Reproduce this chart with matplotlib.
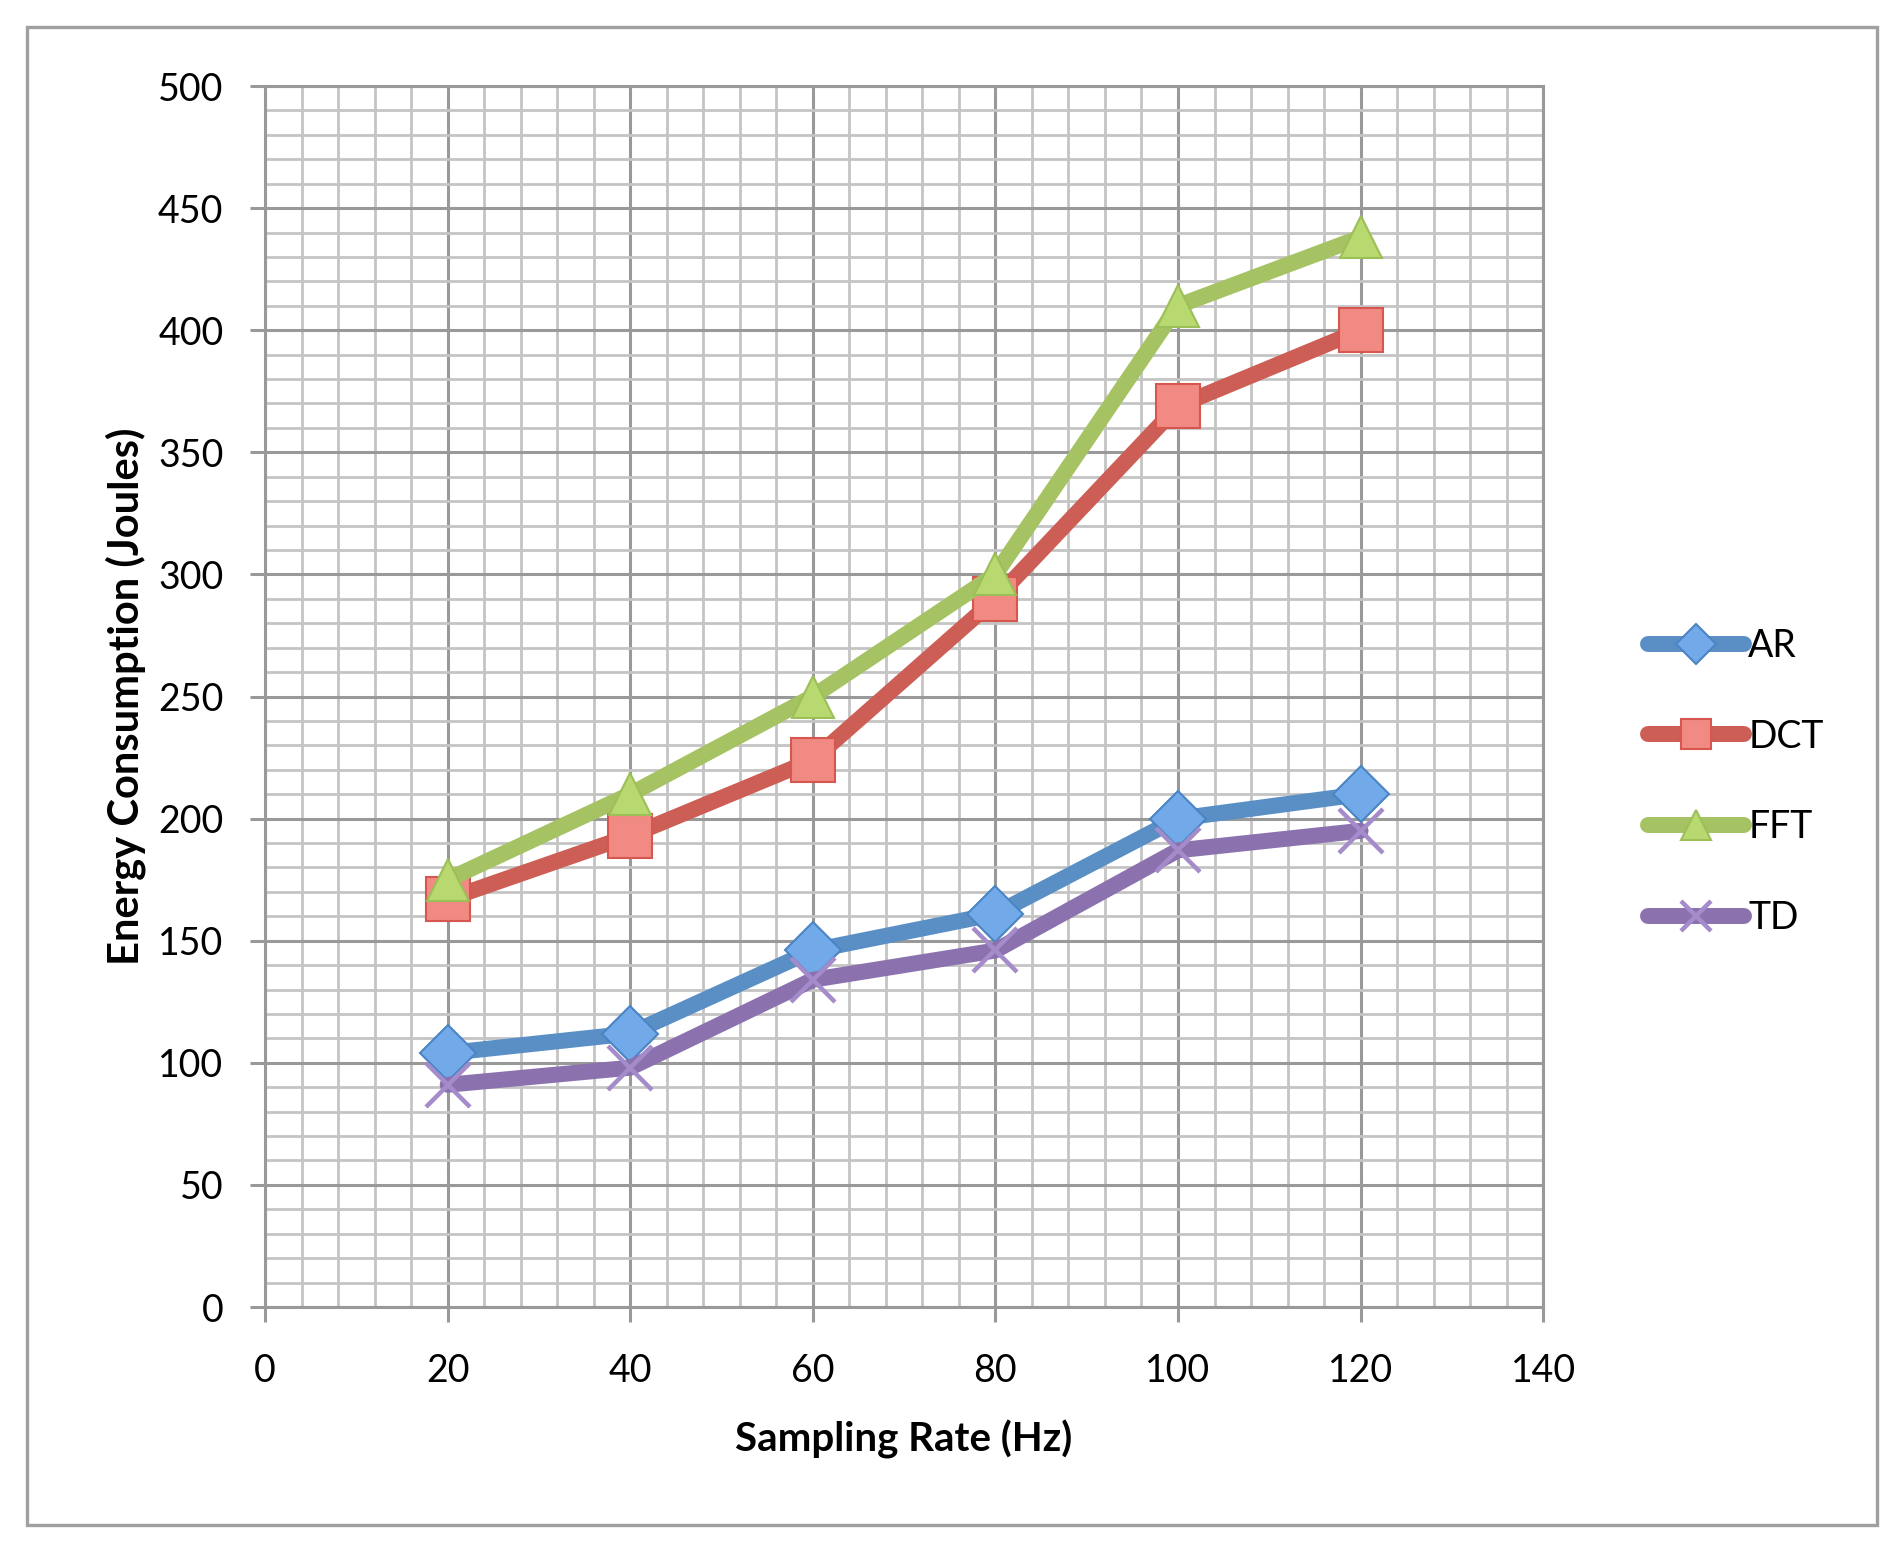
import matplotlib
matplotlib.use("Agg")
import matplotlib.pyplot as plt
from matplotlib.patches import Rectangle
from matplotlib.ticker import MultipleLocator

# Data
sampling_rate = [20, 40, 60, 80, 100, 120]
ar = [104, 112, 146, 161, 200, 210]
dct = [167, 193, 224, 290, 369, 400]
fft = [175, 210, 250, 300, 410, 438]
td = [91, 98, 134, 146, 187, 195]

series_names = ["AR", "DCT", "FFT", "TD"]

plt.rcParams["font.family"] = ["Lato", "DejaVu Sans"]

fig = plt.figure(figsize=(19.03, 15.53), dpi=100)
ax = fig.add_axes([0.1393, 0.1584, 0.6716, 0.7862])

# outer chart border
fig.patches.append(Rectangle((0.0142, 0.018), 0.9722, 0.9646, transform=fig.transFigure,
                             fill=False, edgecolor="#a0a0a0", linewidth=2.4))

ax.set_xlim(0, 140)
ax.set_ylim(0, 500)
ax.xaxis.set_major_locator(MultipleLocator(20))
ax.xaxis.set_minor_locator(MultipleLocator(4))
ax.yaxis.set_major_locator(MultipleLocator(50))
ax.yaxis.set_minor_locator(MultipleLocator(10))

ax.grid(which="minor", color="#c4c4c4", linewidth=2.0)
ax.grid(which="major", color="#999999", linewidth=2.2)
ax.set_axisbelow(True)
for s in ax.spines.values():
    s.set_color("#999999")
    s.set_linewidth(2.2)

ax.tick_params(which="major", direction="out", length=11, width=2.2, color="#999999",
               labelsize=27, labelcolor="black")
ax.tick_params(axis="y", pad=19)
ax.tick_params(axis="x", pad=22)
ax.tick_params(which="minor", length=0)

styles = [
    (ar, "#5a8fc6", "D", 29, "#72a9e8", "#4a84c4", 1.5),
    (dct, "#cc5e55", "s", 31, "#f08a82", "#d65650", 1.5),
    (fft, "#a6c363", "^", 30, "#b8d870", "#9cbf58", 1.5),
    (td, "#8b72ae", "x", 31, "#a48bc9", "#a48bc9", 3.2),
]
for (vals, col, mk, ms, mfc, mec, mew), name in zip(styles, series_names):
    ax.plot(sampling_rate, vals, color=col, linewidth=11.5, solid_capstyle="round",
            solid_joinstyle="round", marker=mk, markersize=ms, markerfacecolor=mfc,
            markeredgecolor=mec, markeredgewidth=mew, label=name, zorder=3)

ax.set_xlabel("Sampling Rate (Hz)", fontsize=29, fontweight="bold", labelpad=22)
ax.set_ylabel("Energy Consumption (Joules)", fontsize=30, fontweight="bold", labelpad=9)

leg = ax.legend(loc="center left", bbox_to_anchor=(0.8662, 0.4965), bbox_transform=fig.transFigure,
                frameon=False, fontsize=27, handlelength=2.56, handletextpad=0.1,
                labelspacing=1.46, borderpad=0, borderaxespad=0, markerscale=0.7)

fig.savefig("out.png", dpi=100)
